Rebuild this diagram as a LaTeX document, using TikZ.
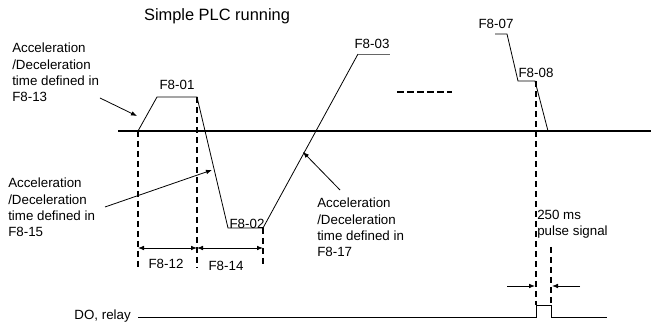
\documentclass[tikz,border=0pt]{standalone}
\usepackage{fontspec}
\setmainfont{Liberation Sans}
\usetikzlibrary{arrows.meta}

\begin{document}
\begin{tikzpicture}[
  x=0.75pt, y=-0.75pt,
  font=\fontsize{10}{12.2}\selectfont,
  >={Latex[length=4.5pt,width=3.5pt]},
  wave/.style={line width=0.6pt},
  axisline/.style={line width=0.8pt},
  guide/.style={line width=1.2pt, dash pattern=on 4.5pt off 3pt},
  etc/.style={line width=1.5pt, dash pattern=on 5pt off 2.5pt},
  dimline/.style={<->, line width=0.6pt},
  arr/.style={->, line width=0.6pt},
  note/.style={align=left, anchor=north west, inner sep=0pt},
  plabel/.style={anchor=base, inner sep=0pt},
]
\useasboundingbox (0,0) rectangle (652,323);

% waveform points
\coordinate (s0) at (138,131);
\coordinate (s1) at (157,97);
\coordinate (s2) at (197,97);
\coordinate (s3) at (228,228);
\coordinate (s4) at (263,228);
\coordinate (s5) at (358,54);
\coordinate (s6) at (390,54);
\coordinate (e0) at (495,34);
\coordinate (e1) at (507,34);
\coordinate (e2) at (518,81);
\coordinate (e3) at (535,81);
\coordinate (e4) at (548,131);
\coordinate (axl) at (118,131);
\coordinate (axr) at (651,131);
\coordinate (dol) at (138,317);
\coordinate (dor) at (607,317);
\coordinate (p0) at (536,317);
\coordinate (p1) at (536,305);
\coordinate (p2) at (551,305);
\coordinate (p3) at (551,317);

\node[plabel, font=\fontsize{12.3}{14}\selectfont] (title) at (217,21) {Simple PLC running};

\draw[axisline] (axl) -- (axr);
\draw[wave] (s0) -- (s1) -- (s2) -- (s3) -- (s4) -- (s5);
\draw[wave, black!60] (s5) -- (s6);
\draw[wave] (e0) -- (e1) -- (e2) -- (e3) -- (e4);
\draw[etc] (397,92) -- (452,92);

% segment labels
\node[plabel] (f01) at (177,90)  {F8-01};
\node[plabel] (f02) at (247,229) {F8-02};
\node[plabel] (f03) at (372,49)  {F8-03};
\node[plabel] (f07) at (496,29)  {F8-07};
\node[plabel] (f08) at (536,78)  {F8-08};

% time guides
\coordinate (g1) at (138,268);
\coordinate (g2) at (197,268);
\coordinate (g3) at (263,266);
\coordinate (g4) at (536,305);
\coordinate (g5t) at (551,247);
\draw[guide] (s0) -- (g1);
\draw[guide] (s2) -- (g2);
\draw[guide] (s4) -- (g3);
\draw[guide] (536,81) -- (g4);
\draw[guide] (g5t) -- (p2);

\draw[dimline] (138,248) -- (197,248);
\draw[dimline] (197,248) -- (263,248);
\node[plabel] (f12) at (166,269) {F8-12};
\node[plabel] (f14) at (226,271) {F8-14};

% notes
\node[note] (acc13) at (12,43)  {Acceleration\\/Deceleration\\time defined in\\F8-13};
\node[note] (acc15) at (8,178)  {Acceleration\\/Deceleration\\time defined in\\F8-15};
\node[note] (acc17) at (317,198) {Acceleration\\/Deceleration\\time defined in\\F8-17};
\coordinate (t13) at (100,98);
\coordinate (h13) at (137,116);
\coordinate (t15) at (105,207);
\coordinate (h15) at (212,170);
\coordinate (t17) at (340,190);
\coordinate (h17) at (303,152);
\draw[arr] (t13) -- (h13);
\draw[arr] (t15) -- (h15);
\draw[arr] (t17) -- (h17);

% relay output
\node[anchor=east, inner sep=0pt] (relay) at (131,316) {DO, relay};
\draw[wave] (dol) -- (p0) -- (p1) -- (p2) -- (p3) -- (dor);
\node[note] (pulse) at (537,210) {250 ms\\pulse signal};
\coordinate (a1) at (507,286);
\coordinate (a2) at (535,286);
\coordinate (a3) at (580,286);
\coordinate (a4) at (552,286);
\draw[arr] (a1) -- (a2);
\draw[arr] (a3) -- (a4);
\end{tikzpicture}
\end{document}
